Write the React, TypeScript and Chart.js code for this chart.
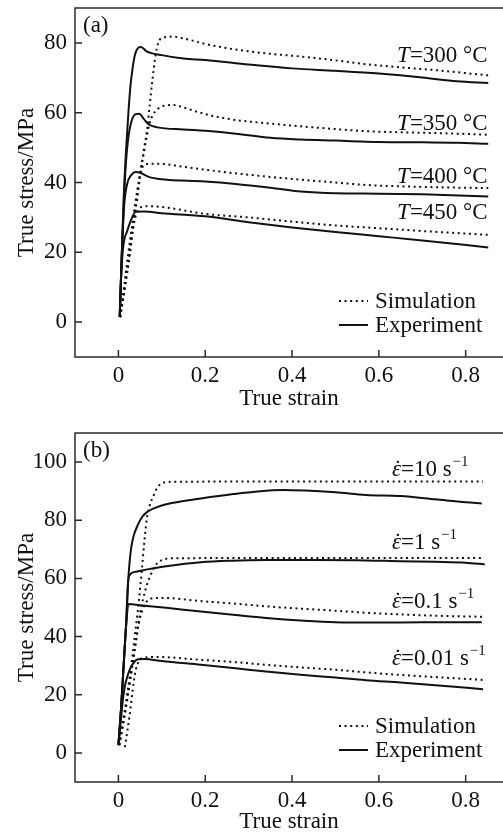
import React, { useEffect, useRef } from "react";
import { Chart, registerables } from "chart.js";

Chart.register(...registerables);

const FONT = '"Liberation Serif", "Times New Roman", serif';
const INK = "#111";
const FS = 23;

// ---------- axis ticks ----------
const xTicks = [0, 0.2, 0.4, 0.6, 0.8];
const yTicksA = [0, 20, 40, 60, 80];
const yTicksB = [0, 20, 40, 60, 80, 100];

// ---------- panel (a): temperature, [strain, stress] ----------
const simT300: [number, number][] = [
  [0.004, 1.4], [0.014, 9], [0.026, 19], [0.036, 29], [0.044, 36], [0.05, 42], [0.058, 49],
  [0.066, 55], [0.072, 62], [0.078, 69], [0.085, 76], [0.092, 80], [0.102, 81.5], [0.125, 81.8],
  [0.15, 81.3], [0.2, 79.7], [0.265, 78.2], [0.34, 77], [0.42, 76.1], [0.5, 75], [0.57, 73.9],
  [0.65, 73], [0.73, 72.2], [0.852, 70.7],
];
const expT300: [number, number][] = [
  [0.003, 1.5], [0.008, 20], [0.012, 35], [0.017, 48], [0.023, 60], [0.028, 68], [0.033, 73],
  [0.038, 76.5], [0.045, 78.5], [0.052, 78.8], [0.065, 77.6], [0.1, 76.5], [0.15, 75.5],
  [0.2, 75.1], [0.3, 73.8], [0.4, 72.7], [0.5, 72.0], [0.6, 71.2], [0.7, 70.1], [0.78, 69],
  [0.852, 68.5],
];
const simT350: [number, number][] = [
  [0.004, 1.4], [0.013, 9], [0.025, 19], [0.035, 29], [0.045, 38], [0.052, 44], [0.058, 48],
  [0.065, 53], [0.072, 57], [0.08, 59.5], [0.09, 61], [0.105, 62], [0.127, 62.2], [0.15, 61.5],
  [0.2, 59.6], [0.265, 58], [0.34, 57], [0.42, 56.1], [0.5, 55.3], [0.57, 54.7], [0.65, 54.4],
  [0.75, 54.1], [0.852, 53.7],
];
const expT350: [number, number][] = [
  [0.003, 1.5], [0.008, 20], [0.012, 33], [0.017, 45], [0.022, 52], [0.03, 57.5], [0.04, 59.6],
  [0.048, 59.7], [0.058, 58.3], [0.07, 56.6], [0.09, 55.8], [0.15, 55.2], [0.2, 54.8],
  [0.27, 54], [0.35, 52.8], [0.42, 52.3], [0.5, 52], [0.6, 51.6], [0.7, 51.5], [0.78, 51.4],
  [0.852, 51.1],
];
const simT400: [number, number][] = [
  [0.004, 1.4], [0.012, 9], [0.022, 19], [0.032, 28], [0.04, 35], [0.048, 41], [0.055, 44.3],
  [0.065, 45.3], [0.09, 45.4], [0.15, 44.5], [0.25, 42.9], [0.35, 41.6], [0.42, 40.8],
  [0.5, 40], [0.57, 39.3], [0.65, 38.9], [0.75, 38.6], [0.852, 38.4],
];
const expT400: [number, number][] = [
  [0.003, 1.5], [0.008, 20], [0.013, 33], [0.02, 39.5], [0.03, 42.2], [0.04, 43], [0.05, 42.8],
  [0.07, 41.6], [0.1, 40.9], [0.2, 40.3], [0.27, 39.6], [0.35, 38.5], [0.42, 37.4], [0.5, 36.9],
  [0.6, 36.8], [0.7, 36.6], [0.852, 36.0],
];
const simT450: [number, number][] = [
  [0.004, 1.4], [0.012, 8], [0.02, 15], [0.03, 24], [0.04, 30.5], [0.05, 32.8], [0.07, 33.2],
  [0.1, 33.0], [0.2, 31.0], [0.3, 30.0], [0.4, 28.8], [0.5, 27.7], [0.6, 26.9], [0.7, 26.1],
  [0.852, 25.0],
];
const expT450: [number, number][] = [
  [0.003, 1.5], [0.007, 15], [0.012, 22.5], [0.02, 26], [0.03, 29.5], [0.04, 31.6], [0.06, 31.7],
  [0.1, 31.2], [0.2, 30.3], [0.3, 28.6], [0.4, 27.1], [0.5, 25.8], [0.6, 24.6], [0.7, 23.4],
  [0.852, 21.4],
];
const tempLabels = ["300", "350", "400", "450"];

// ---------- panel (b): strain rate, [strain, stress] ----------
const simR10: [number, number][] = [
  [0.002, 2.7], [0.012, 12], [0.022, 22], [0.032, 33], [0.04, 43], [0.047, 52], [0.054, 63],
  [0.06, 73], [0.065, 80], [0.072, 85], [0.081, 88.5], [0.09, 91.3], [0.1, 92.7], [0.12, 93.2],
  [0.3, 93.3], [0.6, 93.3], [0.84, 93.3],
];
const expR10: [number, number][] = [
  [0, 2.7], [0.006, 15], [0.012, 30], [0.018, 45], [0.022, 58], [0.026, 66], [0.03, 71],
  [0.035, 74.6], [0.045, 78.5], [0.055, 81.2], [0.065, 82.7], [0.08, 84], [0.11, 85.5],
  [0.15, 86.6], [0.19, 87.5], [0.265, 89.0], [0.32, 89.9], [0.38, 90.4], [0.43, 90.2],
  [0.5, 89.6], [0.57, 88.7], [0.65, 88.3], [0.73, 87.2], [0.8, 86.2], [0.837, 85.8],
];
const simR1: [number, number][] = [
  [0.002, 2.7], [0.012, 11], [0.022, 20], [0.032, 30], [0.042, 40], [0.05, 48], [0.057, 53],
  [0.065, 57.5], [0.075, 61.5], [0.088, 65], [0.1, 66.3], [0.12, 66.9], [0.3, 67], [0.6, 67],
  [0.84, 67],
];
const expR1: [number, number][] = [
  [0, 2.7], [0.006, 15], [0.012, 30], [0.018, 45], [0.022, 58], [0.025, 61], [0.04, 62.3],
  [0.07, 63.2], [0.11, 64.2], [0.19, 65.6], [0.26, 66.1], [0.34, 66.3], [0.45, 66.3],
  [0.57, 66.2], [0.65, 65.9], [0.73, 65.7], [0.8, 65.4], [0.844, 64.8],
];
const simR01: [number, number][] = [
  [0.002, 2.7], [0.012, 11], [0.022, 20], [0.032, 30], [0.04, 38], [0.047, 44.5], [0.055, 49],
  [0.065, 52], [0.08, 53.2], [0.1, 53.3], [0.19, 52.2], [0.27, 51.3], [0.34, 50.4],
  [0.42, 49.6], [0.5, 48.9], [0.57, 48.2], [0.65, 47.6], [0.75, 47.1], [0.84, 46.8],
];
const expR01: [number, number][] = [
  [0, 2.7], [0.006, 15], [0.012, 30], [0.018, 44], [0.023, 51.2], [0.05, 50.8], [0.11, 49.9],
  [0.19, 48.6], [0.27, 47.4], [0.34, 46.4], [0.42, 45.5], [0.5, 44.9], [0.6, 44.8],
  [0.7, 44.9], [0.837, 44.9],
];
const simR001: [number, number][] = [
  [0.015, 2], [0.02, 7], [0.025, 12], [0.03, 18], [0.035, 24], [0.04, 28.5], [0.047, 31.5],
  [0.06, 32.8], [0.088, 33], [0.19, 32], [0.27, 31.2], [0.34, 30.3], [0.42, 29.4], [0.5, 28.6],
  [0.57, 27.7], [0.65, 26.8], [0.75, 25.9], [0.84, 25.1],
];
const expR001: [number, number][] = [
  [0, 2.7], [0.005, 10], [0.01, 18], [0.015, 23], [0.02, 26], [0.027, 29], [0.035, 31],
  [0.045, 32.2], [0.06, 32.3], [0.1, 31.6], [0.19, 30.3], [0.27, 29.1], [0.34, 28],
  [0.42, 26.9], [0.5, 25.9], [0.57, 25], [0.65, 24.2], [0.73, 23.3], [0.84, 21.9],
];
const rateLabels = ["10", "1", "0.1", "0.01"];

const legendLabels = ["Simulation", "Experiment"];

// ---------- helpers ----------
const DOT = [2, 3.6];

function ds(points: [number, number][], dotted: boolean) {
  return {
    data: points.map(([x, y]) => ({ x, y })),
    borderColor: INK,
    borderWidth: 2,
    borderDash: dotted ? DOT : [],
    pointRadius: 0,
    cubicInterpolationMode: "monotone" as const,
    fill: false,
  };
}

type LabelAnchor = { x: number; y: number };

function makeFrame(
  panel: string,
  labelAnchors: LabelAnchor[],
  drawLabel: (ctx: CanvasRenderingContext2D, px: number, py: number, i: number) => void
) {
  return {
    id: "frame-" + panel,
    afterDraw(chart: any) {
      const { ctx, chartArea: a, scales } = chart;
      const xs = scales.x;
      const ys = scales.y;
      ctx.save();
      // frame
      ctx.strokeStyle = "#2a2a2a";
      ctx.lineWidth = 1.5;
      ctx.beginPath();
      ctx.moveTo(chart.width, a.top);
      ctx.lineTo(a.left, a.top);
      ctx.lineTo(a.left, a.bottom);
      ctx.lineTo(chart.width, a.bottom);
      ctx.stroke();
      // inward ticks
      ctx.beginPath();
      xs.ticks.forEach((t: any) => {
        const p = xs.getPixelForValue(t.value);
        ctx.moveTo(p, a.bottom);
        ctx.lineTo(p, a.bottom - 7);
      });
      ys.ticks.forEach((t: any) => {
        const p = ys.getPixelForValue(t.value);
        ctx.moveTo(a.left, p);
        ctx.lineTo(a.left + 7, p);
      });
      ctx.stroke();

      // panel label
      ctx.fillStyle = INK;
      ctx.textBaseline = "alphabetic";
      ctx.textAlign = "left";
      ctx.font = `${FS}px ${FONT}`;
      ctx.fillText(panel, a.left + 8, a.top + 24);

      // curve labels
      labelAnchors.forEach((an, i) => {
        drawLabel(ctx, xs.getPixelForValue(an.x), ys.getPixelForValue(an.y), i);
      });

      // legend
      const lx0 = a.left + 264;
      const lx1 = a.left + 293;
      const tx = a.left + 300;
      const b1 = a.bottom - 49;
      const b2 = a.bottom - 25;
      ctx.strokeStyle = INK;
      ctx.lineWidth = 2;
      ctx.setLineDash(DOT);
      ctx.beginPath();
      ctx.moveTo(lx0, b1 - 7);
      ctx.lineTo(lx1, b1 - 7);
      ctx.stroke();
      ctx.setLineDash([]);
      ctx.beginPath();
      ctx.moveTo(lx0, b2 - 7);
      ctx.lineTo(lx1, b2 - 7);
      ctx.stroke();
      ctx.font = `${FS}px ${FONT}`;
      ctx.fillText(legendLabels[0], tx, b1);
      ctx.fillText(legendLabels[1], tx, b2);
      ctx.restore();
    },
  };
}

function drawTemp(ctx: CanvasRenderingContext2D, px: number, py: number, i: number) {
  ctx.fillStyle = INK;
  ctx.textAlign = "left";
  ctx.textBaseline = "alphabetic";
  ctx.font = `italic ${FS}px ${FONT}`;
  ctx.fillText("T", px, py);
  const w = ctx.measureText("T").width;
  ctx.font = `${FS}px ${FONT}`;
  ctx.fillText(`=${tempLabels[i]} °C`, px + w, py);
}

function drawRate(ctx: CanvasRenderingContext2D, px: number, py: number, i: number) {
  ctx.fillStyle = INK;
  ctx.textAlign = "left";
  ctx.textBaseline = "alphabetic";
  ctx.font = `italic ${FS}px ${FONT}`;
  ctx.fillText("\u03B5", px, py);
  const w1 = ctx.measureText("\u03B5").width;
  ctx.textAlign = "center";
  ctx.font = `${FS}px ${FONT}`;
  ctx.fillText("\u02D9", px + w1 / 2 + 1.5, py);
  ctx.textAlign = "left";
  const main = `=${rateLabels[i]} s`;
  ctx.fillText(main, px + w1, py);
  const w2 = ctx.measureText(main).width;
  ctx.font = `15px ${FONT}`;
  ctx.fillText("\u22121", px + w1 + w2 + 1, py - 10);
}

function makeConfig(
  datasets: any[],
  yMin: number,
  yMax: number,
  yTicks: number[],
  topPad: number,
  xAxisHeight: number,
  xTitleBottom: number,
  plugin: any
) {
  return {
    type: "line" as const,
    data: { datasets },
    plugins: [plugin],
    options: {
      animation: false as const,
      responsive: false,
      maintainAspectRatio: false,
      layout: { padding: { top: topPad, right: 0, left: 0, bottom: 0 } },
      plugins: { legend: { display: false }, tooltip: { enabled: false } },
      scales: {
        x: {
          type: "linear" as const,
          min: -0.1,
          max: 0.886,
          afterBuildTicks: (s: any) => {
            s.ticks = xTicks.map((v) => ({ value: v }));
          },
          afterFit: (s: any) => {
            s.height = xAxisHeight;
            s.paddingLeft = 0;
            s.paddingRight = 0;
          },
          grid: { display: false, drawTicks: false },
          border: { display: false },
          ticks: {
            color: INK,
            padding: 5,
            font: { family: FONT, size: FS },
            callback: (v: any) => `${v}`,
          },
          title: {
            display: true,
            text: "True strain",
            color: INK,
            font: { family: FONT, size: FS },
            padding: { top: 0, bottom: xTitleBottom },
          },
        },
        y: {
          type: "linear" as const,
          min: yMin,
          max: yMax,
          afterBuildTicks: (s: any) => {
            s.ticks = yTicks.map((v) => ({ value: v }));
          },
          afterFit: (s: any) => {
            s.width = 75;
            s.paddingTop = 0;
            s.paddingBottom = 0;
          },
          grid: { display: false, drawTicks: false },
          border: { display: false },
          ticks: {
            color: INK,
            padding: 8,
            font: { family: FONT, size: FS },
            callback: (v: any) => `${v}`,
          },
          title: {
            display: true,
            text: "True stress/MPa",
            color: INK,
            font: { family: FONT, size: FS },
            padding: { top: 13, bottom: 0 },
          },
        },
      },
    },
  };
}

export default function App() {
  const refA = useRef<HTMLCanvasElement>(null);
  const refB = useRef<HTMLCanvasElement>(null);

  useEffect(() => {
    document.body.style.margin = "0";
    const anchorsA: LabelAnchor[] = [
      { x: 0.642, y: 74.4 },
      { x: 0.642, y: 55.0 },
      { x: 0.642, y: 40.0 },
      { x: 0.642, y: 29.5 },
    ];
    const anchorsB: LabelAnchor[] = [
      { x: 0.63, y: 95.2 },
      { x: 0.63, y: 70.0 },
      { x: 0.63, y: 49.9 },
      { x: 0.63, y: 30.3 },
    ];
    const chartA = new Chart(
      refA.current!,
      makeConfig(
        [
          ds(simT300, true), ds(expT300, false),
          ds(simT350, true), ds(expT350, false),
          ds(simT400, true), ds(expT400, false),
          ds(simT450, true), ds(expT450, false),
        ],
        -10, 90, yTicksA, 8, 58, 2,
        makeFrame("(a)", anchorsA, drawTemp)
      ) as any
    );
    const chartB = new Chart(
      refB.current!,
      makeConfig(
        [
          ds(simR10, true), ds(expR10, false),
          ds(simR1, true), ds(expR1, false),
          ds(simR01, true), ds(expR01, false),
          ds(simR001, true), ds(expR001, false),
        ],
        -10, 110, yTicksB, 18, 52, -2,
        makeFrame("(b)", anchorsB, drawRate)
      ) as any
    );
    return () => {
      chartA.destroy();
      chartB.destroy();
    };
  }, []);

  return (
    <div style={{ width: 503, height: 834, background: "#fff" }}>
      <canvas ref={refA} width={503} height={415} style={{ display: "block" }} />
      <canvas ref={refB} width={503} height={419} style={{ display: "block" }} />
    </div>
  );
}
